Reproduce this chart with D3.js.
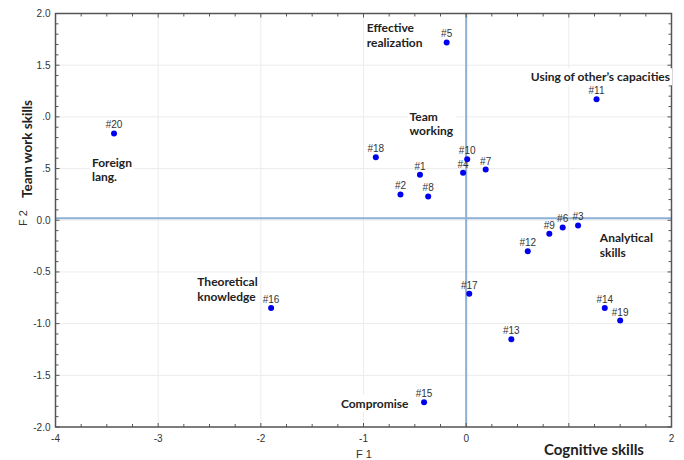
<!DOCTYPE html>
<html>
<head>
    <script src="https://d3js.org/d3.v7.min.js"></script>
    <title>F1 / F2 factor plot</title>
    <style>
        body { margin: 0; background: #fff; }
    </style>
</head>
<body>
    <svg id="plot" height="460" width="684"></svg>
    <script>
        // point data
        const pointIds = ["#1", "#2", "#3", "#4", "#5", "#6", "#7", "#8", "#9", "#10",
                          "#11", "#12", "#13", "#14", "#15", "#16", "#17", "#18", "#19", "#20"];
        const f1Values = [-0.45, -0.64, 1.09, -0.03, -0.19, 0.94, 0.19, -0.37, 0.81, 0.01,
                          1.27, 0.60, 0.44, 1.35, -0.41, -1.90, 0.03, -0.88, 1.50, -3.43];
        const f2Values = [0.44, 0.25, -0.05, 0.46, 1.72, -0.07, 0.49, 0.23, -0.13, 0.59,
                          1.17, -0.30, -1.15, -0.85, -1.76, -0.85, -0.71, 0.61, -0.97, 0.84];

        // axis ticks
        const xTicks = [-4, -3, -2, -1, 0, 1, 2];
        const xTickLabels = ["-4", "-3", "-2", "-1", "0", "", "2"];
        const yTicks = [2, 1.5, 1, 0.5, 0, -0.5, -1, -1.5, -2];
        const yTickLabels = ["2.0", "1.5", ".0", ".5", "0.0", "-0.5", "-1.0", "-1.5", "-2.0"];

        // group annotations (anchor = left edge / first line centre, in F1/F2 units)
        const annotationText = [
            ["Foreign", "lang."],
            ["Effective", "realization"],
            ["Using of other\u2019s capacities"],
            ["Team", "working"],
            ["Analytical", "skills"],
            ["Theoretical", "knowledge"],
            ["Compromise"]
        ];
        const annotationF1 = [-3.645, -0.968, 0.63, -0.551, 1.302, -2.619, -1.22];
        const annotationF2 = [0.554, 1.856, 1.383, 1.001, -0.175, -0.600, -1.774];

        const refLineF2 = 0.02;

        const svg = d3.select('svg#plot');
        const margin = {top: 13.5, right: 12.5, bottom: 33, left: 55.5};
        const width = +svg.attr('width');
        const height = +svg.attr('height');

        const xScale = d3.scaleLinear().domain([-4, 2]).range([margin.left, width - margin.right]);
        const yScale = d3.scaleLinear().domain([-2, 2]).range([height - margin.bottom, margin.top]);

        const x0 = xScale.range()[0], x1 = xScale.range()[1];
        const y0 = yScale.range()[1], y1 = yScale.range()[0];

        // grid
        const grid = svg.append('g');
        xTicks.forEach(t => {
            grid.append('line')
                .attr('x1', xScale(t)).attr('x2', xScale(t))
                .attr('y1', y0).attr('y2', y1)
                .style('stroke', '#ececec').style('stroke-width', 1);
        });
        yTicks.forEach(t => {
            grid.append('line')
                .attr('x1', x0).attr('x2', x1)
                .attr('y1', yScale(t)).attr('y2', yScale(t))
                .style('stroke', '#ececec').style('stroke-width', 1);
        });

        // reference lines
        svg.append('line')
            .attr('x1', xScale(0)).attr('x2', xScale(0))
            .attr('y1', y0).attr('y2', y1)
            .style('stroke', '#8eafd6').style('stroke-width', 2);
        svg.append('line')
            .attr('x1', x0).attr('x2', x1)
            .attr('y1', yScale(refLineF2)).attr('y2', yScale(refLineF2))
            .style('stroke', '#8eafd6').style('stroke-width', 2);

        // frame with inside ticks on all four sides
        const tickColor = '#555';
        const minorX = d3.range(-4, 2.001, 0.25);
        const minorY = d3.range(-2, 2.001, 0.1);
        const ticks = svg.append('g').style('stroke', tickColor).style('stroke-width', 1);
        minorX.forEach(t => {
            const len = Math.abs(t - Math.round(t)) < 1e-6 ? 4 : 3;
            ticks.append('line').attr('x1', xScale(t)).attr('x2', xScale(t))
                .attr('y1', y1).attr('y2', y1 - len);
            ticks.append('line').attr('x1', xScale(t)).attr('x2', xScale(t))
                .attr('y1', y0).attr('y2', y0 + len);
        });
        minorY.forEach(t => {
            const len = Math.abs(t * 2 - Math.round(t * 2)) < 1e-6 ? 4 : 3;
            ticks.append('line').attr('x1', x0).attr('x2', x0 + len)
                .attr('y1', yScale(t)).attr('y2', yScale(t));
            ticks.append('line').attr('x1', x1).attr('x2', x1 - len)
                .attr('y1', yScale(t)).attr('y2', yScale(t));
        });
        svg.append('rect')
            .attr('x', x0).attr('y', y0)
            .attr('width', x1 - x0).attr('height', y1 - y0)
            .style('fill', 'none').style('stroke', tickColor).style('stroke-width', 1.5);

        // tick labels
        xTicks.forEach((t, i) => {
            svg.append('text')
                .attr('x', xScale(t)).attr('y', y1 + 15)
                .attr('text-anchor', 'middle')
                .style('font-family', 'Liberation Sans, Arial, sans-serif')
                .style('font-size', '10px').style('fill', '#333')
                .text(xTickLabels[i]);
        });
        yTicks.forEach((t, i) => {
            svg.append('text')
                .attr('x', x0 - 5).attr('y', yScale(t) + 3.5)
                .attr('text-anchor', 'end')
                .style('font-family', 'Liberation Sans, Arial, sans-serif')
                .style('font-size', '10px').style('fill', '#333')
                .text(yTickLabels[i]);
        });

        // points
        pointIds.forEach((id, i) => {
            svg.append('circle')
                .attr('cx', xScale(f1Values[i]))
                .attr('cy', yScale(f2Values[i]))
                .attr('r', 3)
                .style('fill', '#0000f0');
            svg.append('text')
                .attr('x', xScale(f1Values[i]))
                .attr('y', yScale(f2Values[i]) - 5)
                .attr('text-anchor', 'middle')
                .style('font-family', 'Liberation Sans, Arial, sans-serif')
                .style('font-size', '10px').style('fill', '#333')
                .text(id);
        });

        // annotations with white boxes behind them
        annotationText.forEach((lines, i) => {
            const g = svg.append('g');
            const bg = g.append('rect').style('fill', '#fff');
            const t = g.append('text')
                .style('font-family', 'Lato, "Open Sans", sans-serif')
                .style('font-weight', 'bold')
                .style('font-size', '12px').style('fill', '#222');
            lines.forEach((line, j) => {
                t.append('tspan')
                    .attr('x', xScale(annotationF1[i]))
                    .attr('y', yScale(annotationF2[i]) + 4 + j * 14.3)
                    .text(line);
            });
            const bb = t.node().getBBox();
            bg.attr('x', bb.x - 2).attr('y', bb.y - 1)
              .attr('width', bb.width + 4).attr('height', bb.height + 2);
        });

        // axis titles
        svg.append('text')
            .attr('transform', 'translate(32,149) rotate(-90)')
            .attr('text-anchor', 'middle')
            .style('font-family', 'Lato, "Open Sans", sans-serif')
            .style('font-weight', 'bold').style('font-size', '13.5px').style('fill', '#222')
            .text('Team work skills');
        svg.append('text')
            .attr('transform', 'translate(27,218) rotate(-90)')
            .attr('text-anchor', 'middle')
            .style('font-family', 'Liberation Sans, Arial, sans-serif')
            .style('font-size', '11px').style('fill', '#333')
            .text('F 2');
        svg.append('text')
            .attr('x', 356).attr('y', 458)
            .style('font-family', 'Liberation Sans, Arial, sans-serif')
            .style('font-size', '11px').style('fill', '#333')
            .text('F 1');
        svg.append('text')
            .attr('x', 544).attr('y', 455)
            .style('font-family', 'Lato, "Open Sans", sans-serif')
            .style('font-weight', 'bold').style('font-size', '15px').style('fill', '#222')
            .text('Cognitive skills');
    </script>
</body>
</html>
